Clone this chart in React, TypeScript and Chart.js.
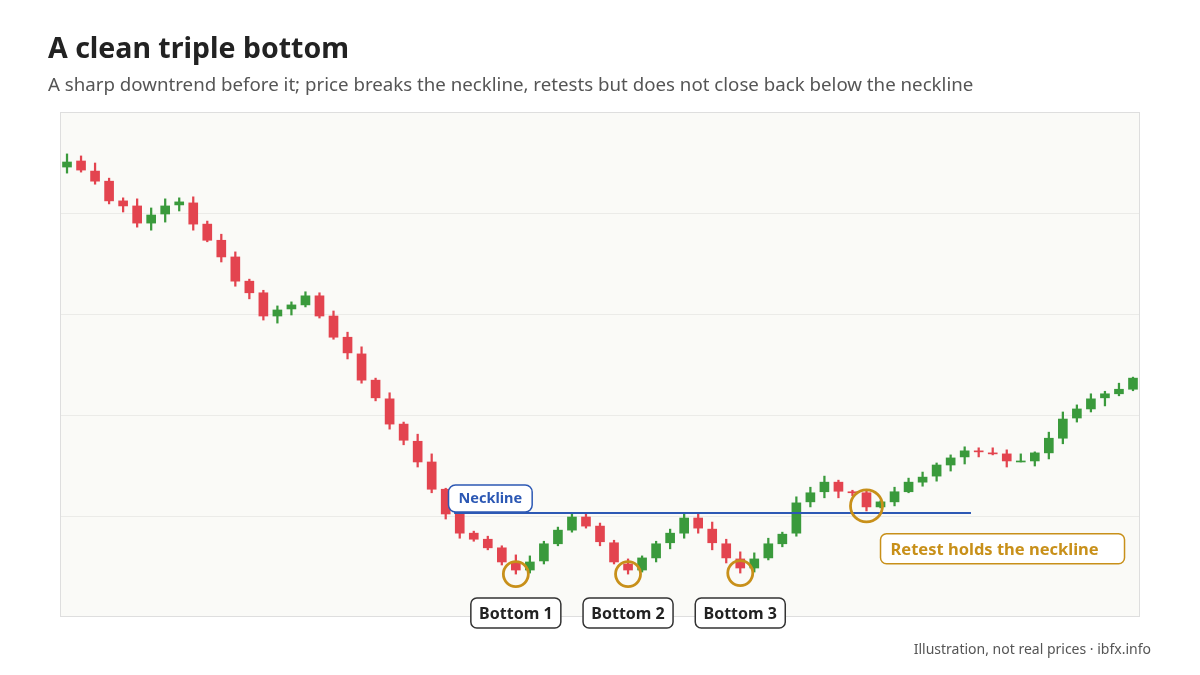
import React, { useEffect, useRef } from "react";
import { Chart, registerables } from "chart.js";

Chart.register(...registerables);

const opens = [89.1,90.3,88.3,86.3,82.4,81.4,78.0,79.8,81.6,82.0,77.8,74.6,71.3,66.5,64.2,59.6,61.0,61.8,63.6,59.6,55.4,52.1,46.9,43.2,38.2,34.8,30.7,25.3,20.4,16.6,15.4,13.7,10.7,9.3,11.1,14.5,17.2,19.8,18.0,14.7,10.5,9.3,11.7,14.7,16.6,19.6,17.4,14.5,11.5,9.7,11.7,14.5,16.6,22.8,24.8,26.7,24.8,24.6,21.8,22.8,24.8,26.7,27.9,30.1,31.7,32.9,32.5,32.3,30.7,30.9,32.5,35.4,39.4,41.2,43.4,44.2,45.1];
const highs = [91.7,91.3,89.9,86.9,83.0,82.8,81.0,82.8,83.0,83.2,78.4,75.8,72.3,66.9,64.7,61.6,62.4,64.4,64.2,60.6,56.4,53.5,47.3,44.4,38.6,36.2,32.3,25.5,20.6,17.0,16.0,14.1,12.3,12.1,15.0,17.8,20.6,20.6,18.6,15.2,11.5,12.1,15.0,17.4,20.6,20.6,18.8,15.4,12.9,12.7,15.6,16.8,23.8,25.7,27.9,27.1,25.1,25.1,23.0,25.7,27.5,28.7,30.5,32.1,33.7,33.5,33.5,33.1,32.3,32.7,36.6,40.6,42.0,44.2,44.7,46.3,47.5];
const lows = [87.9,88.1,85.7,81.8,80.2,77.2,76.6,78.2,80.4,76.6,74.3,70.3,65.5,63.0,58.8,58.2,59.8,61.4,59.2,55.0,51.1,46.3,42.8,37.2,34.1,29.7,24.6,19.4,15.6,15.0,13.3,10.3,8.5,8.7,10.5,14.1,16.8,17.6,14.1,10.5,8.5,8.9,10.9,13.5,15.6,16.6,13.3,10.7,8.7,8.9,11.3,13.9,16.0,21.8,23.6,23.6,24.0,21.0,21.6,22.0,24.6,25.9,26.9,28.9,30.3,31.7,32.1,29.7,30.7,29.9,31.3,34.3,38.6,40.6,41.8,43.8,44.8];
const closes = [90.1,88.5,86.3,82.4,81.4,78.0,79.6,81.4,82.2,77.8,74.6,71.3,66.5,64.2,59.6,60.8,61.8,63.6,59.6,55.4,52.3,46.9,43.4,38.2,35.0,30.7,25.3,20.4,16.6,15.4,13.7,10.9,9.3,10.9,14.5,17.2,19.8,18.0,14.9,10.9,9.3,11.7,14.5,16.6,19.6,17.6,14.7,11.7,9.7,11.5,14.5,16.4,22.6,24.6,26.7,24.9,24.6,21.8,22.8,24.8,26.7,27.7,30.1,31.5,32.9,32.7,32.3,30.9,30.9,32.5,35.4,39.2,41.2,43.2,44.2,45.1,47.3];

const labels = opens.map((_, i) => String(i));
const gridValues = [20, 40, 60, 80];

const NECKLINE = 20.6;
const NECK_START = 27.6;
const NECK_END = 64.45;
const NECK_LABEL_IDX = 27.2;
const bottomIdx = [32, 40, 48];
const bottomLabels = ["Bottom 1", "Bottom 2", "Bottom 3"];
const BOTTOM_LABEL_Y = 0.8;
const RETEST_IDX = 57;
const RETEST_Y = 22.0;
const RETEST_LABEL_IDX = 58.0;
const RETEST_LABEL_Y = 13.5;

const TITLE = "A clean triple bottom";
const SUBTITLE = "A sharp downtrend before it; price breaks the neckline, retests but does not close back below the neckline";
const FOOTER = "Illustration, not real prices · ibfx.info";

const GREEN = "#3a9a3c";
const RED = "#e3444f";
const BLUE = "#2c58b4";
const GOLD = "#c8901a";
const FONT = "'Noto Sans', 'Open Sans', sans-serif";

const colors = opens.map((o, i) => (closes[i] >= o ? GREEN : RED));

const deco = {
  id: "deco",
  beforeDraw(chart: any) {
    const { ctx, chartArea: a, scales } = chart;
    ctx.save();
    ctx.fillStyle = "#ffffff";
    ctx.fillRect(0, 0, chart.width, chart.height);
    ctx.fillStyle = "#fafaf7";
    ctx.fillRect(a.left, a.top, a.right - a.left, a.bottom - a.top);
    ctx.strokeStyle = "#ebebe8";
    ctx.lineWidth = 1;
    gridValues.forEach((v) => {
      const y = Math.round(scales.y.getPixelForValue(v)) + 0.5;
      ctx.beginPath();
      ctx.moveTo(a.left, y);
      ctx.lineTo(a.right, y);
      ctx.stroke();
    });
    ctx.strokeStyle = "#dedede";
    ctx.strokeRect(a.left + 0.5, a.top + 0.5, a.right - a.left - 1, a.bottom - a.top - 1);
    ctx.restore();
  },
  afterDatasetsDraw(chart: any) {
    const { ctx, scales } = chart;
    const xs = scales.x;
    const ys = scales.y;
    ctx.save();
    // neckline
    const ny = ys.getPixelForValue(NECKLINE);
    ctx.strokeStyle = BLUE;
    ctx.lineWidth = 2;
    ctx.beginPath();
    ctx.moveTo(xs.getPixelForValue(NECK_START), ny);
    ctx.lineTo(xs.getPixelForValue(NECK_END), ny);
    ctx.stroke();
    // neckline label
    ctx.font = `bold 14.5px ${FONT}`;
    const nw = ctx.measureText("Neckline").width + 20;
    const nx = xs.getPixelForValue(NECK_LABEL_IDX);
    ctx.beginPath();
    ctx.roundRect(nx, ny - 28, nw, 27, 7);
    ctx.fillStyle = "#ffffff";
    ctx.fill();
    ctx.lineWidth = 1.5;
    ctx.strokeStyle = BLUE;
    ctx.stroke();
    ctx.fillStyle = BLUE;
    ctx.textAlign = "center";
    ctx.textBaseline = "middle";
    ctx.fillText("Neckline", nx + nw / 2, ny - 14);
    // bottom circles
    ctx.strokeStyle = GOLD;
    ctx.lineWidth = 2.8;
    bottomIdx.forEach((i) => {
      ctx.beginPath();
      ctx.arc(xs.getPixelForValue(i), ys.getPixelForValue(lows[i]), 12.5, 0, Math.PI * 2);
      ctx.stroke();
    });
    ctx.beginPath();
    ctx.arc(xs.getPixelForValue(RETEST_IDX), ys.getPixelForValue(RETEST_Y), 16, 0, Math.PI * 2);
    ctx.stroke();
    // bottom labels
    ctx.font = `bold 16px ${FONT}`;
    bottomIdx.forEach((i, k) => {
      const cx = xs.getPixelForValue(i);
      const cy = ys.getPixelForValue(BOTTOM_LABEL_Y);
      const w = 90, h = 30;
      ctx.beginPath();
      ctx.roundRect(cx - w / 2, cy - h / 2, w, h, 6);
      ctx.fillStyle = "#ffffff";
      ctx.fill();
      ctx.lineWidth = 1.5;
      ctx.strokeStyle = "#333333";
      ctx.stroke();
      ctx.fillStyle = "#222222";
      ctx.textAlign = "center";
      ctx.textBaseline = "middle";
      ctx.fillText(bottomLabels[k], cx, cy + 1);
    });
    // retest label
    {
      const lx = xs.getPixelForValue(RETEST_LABEL_IDX);
      const cy = ys.getPixelForValue(RETEST_LABEL_Y);
      const w = 244, h = 30;
      ctx.beginPath();
      ctx.roundRect(lx, cy - h / 2, w, h, 6);
      ctx.fillStyle = "#ffffff";
      ctx.fill();
      ctx.lineWidth = 1.5;
      ctx.strokeStyle = GOLD;
      ctx.stroke();
      ctx.fillStyle = GOLD;
      ctx.textAlign = "left";
      ctx.textBaseline = "middle";
      ctx.font = `bold 16.5px ${FONT}`;
      ctx.fillText("Retest holds the neckline", lx + 10, cy + 1);
    }
    ctx.restore();
  },
  afterDraw(chart: any) {
    const { ctx } = chart;
    ctx.save();
    ctx.textBaseline = "alphabetic";
    ctx.textAlign = "left";
    ctx.fillStyle = "#222222";
    ctx.font = `bold 28.5px ${FONT}`;
    ctx.fillText(TITLE, 48, 58);
    ctx.fillStyle = "#555555";
    ctx.font = `18.7px ${FONT}`;
    ctx.fillText(SUBTITLE, 48, 91);
    ctx.font = `14px ${FONT}`;
    ctx.textAlign = "right";
    ctx.fillText(FOOTER, 1151, 654);
    ctx.restore();
  },
};

export default function App() {
  const ref = useRef<HTMLCanvasElement | null>(null);
  useEffect(() => {
    if (!ref.current) return;
    const chart = new Chart(ref.current, {
      type: "bar",
      data: {
        labels,
        datasets: [
          {
            label: "body",
            data: opens.map((o, i) => [Math.min(o, closes[i]), Math.max(o, closes[i])]),
            backgroundColor: colors,
            borderWidth: 0,
            barThickness: 9,
            grouped: false,
            order: 0,
            borderSkipped: false,
          } as any,
          {
            label: "wick",
            data: lows.map((l, i) => [l, highs[i]]),
            backgroundColor: colors,
            borderWidth: 0,
            barThickness: 1.6,
            grouped: false,
            order: 1,
            borderSkipped: false,
          } as any,
        ],
      },
      options: {
        responsive: false,
        animation: false,
        devicePixelRatio: 1,
        layout: { padding: { left: 60, top: 112, right: 60, bottom: 58 } },
        plugins: { legend: { display: false }, tooltip: { enabled: false } },
        scales: {
          x: { display: false, offset: true },
          y: { display: false, min: 0, max: 100 },
        },
      },
      plugins: [deco],
    });
    return () => chart.destroy();
  }, []);
  return (
    <div style={{ position: "absolute", left: 0, top: 0, width: 1200, height: 675, background: "#fff" }}>
      <canvas ref={ref} width={1200} height={675} style={{ display: "block" }} />
    </div>
  );
}
